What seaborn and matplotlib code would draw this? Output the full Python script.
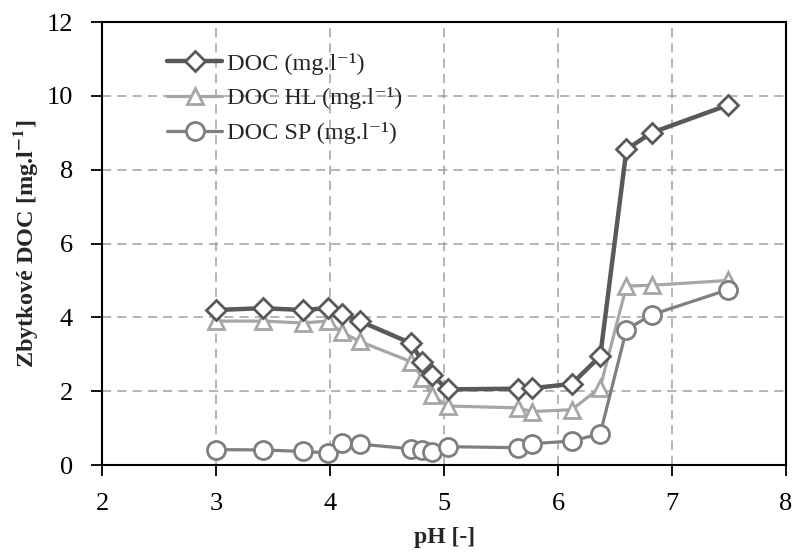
import pandas as pd
import matplotlib
matplotlib.use("Agg")
import matplotlib.pyplot as plt
import seaborn as sns

# data
ph = [3.0, 3.41, 3.76, 3.98, 4.1, 4.26, 4.71, 4.81, 4.89, 5.03,
      5.65, 5.77, 6.12, 6.37, 6.6, 6.82, 7.49]
doc = [4.2, 4.25, 4.2, 4.25, 4.1, 3.9, 3.3, 2.8, 2.45, 2.05,
       2.07, 2.08, 2.2, 2.95, 8.55, 9.0, 9.75]
doc_hl = [3.9, 3.9, 3.85, 3.9, 3.6, 3.35, 2.8, 2.35, 1.9, 1.6,
          1.55, 1.45, 1.5, 2.1, 4.85, 4.87, 5.0]
doc_sp = [0.42, 0.41, 0.37, 0.33, 0.6, 0.57, 0.44, 0.4, 0.36, 0.5,
          0.47, 0.58, 0.65, 0.85, 3.67, 4.07, 4.75]

labels = ['DOC (mg.l⁻¹)', 'DOC HL (mg.l⁻¹)', 'DOC SP (mg.l⁻¹)']

df = pd.DataFrame({'pH': ph, 'DOC': doc, 'HL': doc_hl, 'SP': doc_sp})

sns.set_style('white')
plt.rcParams['font.family'] = ['Liberation Serif', 'DejaVu Serif']
plt.rcParams['mathtext.fontset'] = 'stix'

fig, ax = plt.subplots(figsize=(7.98, 5.57), dpi=100)
fig.subplots_adjust(left=0.128, right=0.985, bottom=0.165, top=0.9605)

# DOC HL and DOC SP first, DOC on top
sns.lineplot(data=df, x='pH', y='HL', ax=ax, color='#a6a6a6', lw=2.3,
             marker='^', markersize=12, markerfacecolor='white',
             markeredgecolor='#a6a6a6', markeredgewidth=2, label=labels[1],
             zorder=3)
sns.lineplot(data=df, x='pH', y='SP', ax=ax, color='#7f7f7f', lw=2.3,
             marker='o', markersize=13, markerfacecolor='white',
             markeredgecolor='#7f7f7f', markeredgewidth=2, label=labels[2],
             zorder=3)
sns.lineplot(data=df, x='pH', y='DOC', ax=ax, color='#595959', lw=3.2,
             marker='D', markersize=10, markerfacecolor='white',
             markeredgecolor='#595959', markeredgewidth=2, label=labels[0],
             zorder=4)

ax.set_xlim(2, 8)
ax.set_ylim(0, 12)
ax.set_xticks(range(2, 9))
ax.set_yticks(range(0, 13, 2))
ax.grid(True, color='#a0a0a0', linestyle=(0, (6, 4)), linewidth=1.1)
ax.tick_params(direction='out', length=8, width=1.3, labelsize=19,
               bottom=True, left=True, colors='black')
ax.tick_params(axis='x', pad=12)
ax.tick_params(axis='y', pad=13)
for s in ax.spines.values():
    s.set_color('black')
    s.set_linewidth(1.5)

ax.set_xlabel('pH [-]', fontsize=17, fontweight='bold', labelpad=9)
ax.set_ylabel('Zbytkové DOC [mg.l$^{\\mathbf{-1}}$]', fontsize=17.5,
              fontweight='bold', labelpad=5)

h, l = ax.get_legend_handles_labels()
order = [2, 0, 1]
ax.legend([h[i] for i in order], [l[i] for i in order], loc='upper left',
          bbox_to_anchor=(0.095, 0.931), frameon=False, fontsize=17.5,
          handlelength=2.26, handletextpad=0.2, labelspacing=0.53,
          borderaxespad=0, borderpad=0)

fig.savefig('out.png', dpi=100)
plt.close(fig)
